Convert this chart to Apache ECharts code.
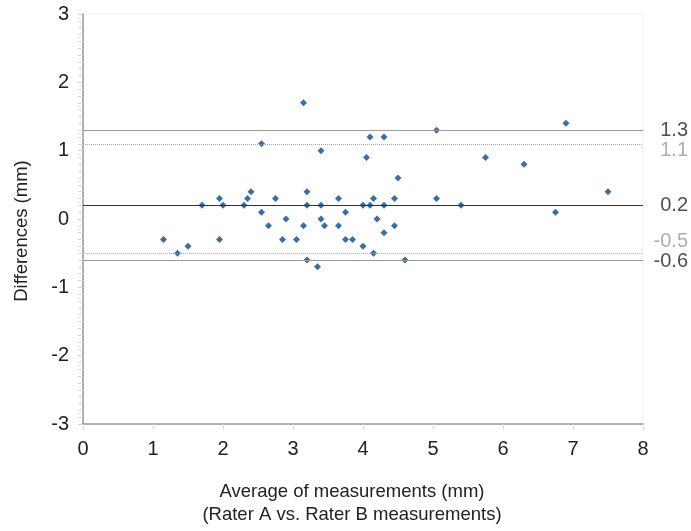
<!DOCTYPE html>
<html>
<head>
<meta charset="utf-8">
<script src="https://cdn.jsdelivr.net/npm/echarts@6/dist/echarts.min.js"></script>
<style>
  html, body { margin: 0; padding: 0; background: #fff; }
  #myChart { width: 691px; height: 531px; }
</style>
</head>
<body>
<div id="myChart"></div>
<script>
// average of the two raters (mm)
var avgValues = [2.55, 1.15, 1.35, 1.5, 1.7, 1.95, 1.95, 2.0, 2.3, 2.35, 2.4, 2.55, 2.65, 2.75,
  3.15, 4.1, 4.3, 5.05, 3.4, 4.05, 4.5, 3.2, 3.65, 4.15, 4.45, 5.05, 3.2, 3.4, 4.0, 4.1, 4.3, 5.4,
  2.9, 3.15, 3.4, 3.45, 3.65, 3.75, 4.2, 4.45, 4.3, 2.85, 3.05, 3.75, 3.85, 4.0, 4.15, 3.2, 3.35, 4.6,
  6.9, 5.75, 6.3, 7.5, 6.75];
// difference between raters (mm)
var diffValues = [1.1, -0.3, -0.5, -0.4, 0.2, 0.3, -0.3, 0.2, 0.2, 0.3, 0.4, 0.1, -0.1, 0.3,
  1.7, 1.2, 1.2, 1.3, 1.0, 0.9, 0.6, 0.4, 0.3, 0.3, 0.3, 0.3, 0.2, 0.2, 0.2, 0.2, 0.2, 0.2,
  0, -0.1, 0, -0.1, -0.1, 0.1, 0, -0.1, -0.2, -0.3, -0.3, -0.3, -0.3, -0.4, -0.5, -0.6, -0.7, -0.6,
  1.4, 0.9, 0.8, 0.4, 0.1];
// reference lines: upper limit, upper CI, mean, lower CI, lower limit
var limitValues = [1.3, 1.1, 0.2, -0.5, -0.6];
var limitLabels = ['1.3', '1.1', '0.2', '-0.5', '-0.6'];
var xTicks = [0, 1, 2, 3, 4, 5, 6, 7, 8];
var yTicks = [-3, -2, -1, 0, 1, 2, 3];

var points = avgValues.map(function (x, i) { return [x, diffValues[i]]; });

// line look per limit (solid = limits/mean, dotted = CI)
var lineStyles = [
  { color: '#9a9a9a', type: 'solid', width: 1 },
  { color: '#a8a8a8', type: 'dotted', width: 1 },
  { color: '#333333', type: 'solid', width: 1 },
  { color: '#a8a8a8', type: 'dotted', width: 1 },
  { color: '#9a9a9a', type: 'solid', width: 1 }
];
var labelColors = ['#222', '#9a9a9a', '#222', '#9a9a9a', '#222'];
var labelShift = [0, 7, 0, -12, 1];

var myChart = echarts.init(document.getElementById('myChart'));
var option = {
  animation: false,
  textStyle: { fontFamily: 'Liberation Sans, Arial, sans-serif' },
  grid: {
    left: 83, top: 14, right: 48, bottom: 104,
    show: true, borderColor: '#eeeeee', borderWidth: 1
  },
  xAxis: {
    type: 'value',
    min: xTicks[0], max: xTicks[xTicks.length - 1], interval: 1,
    name: 'Average of measurements (mm)\n(Rater A vs. Rater B measurements)',
    nameLocation: 'middle',
    nameGap: 56,
    nameTextStyle: { fontSize: 18.5, color: '#222', lineHeight: 23, padding: [0, 22, 0, 0] },
    axisLine: { onZero: false, lineStyle: { color: '#999', width: 1.5 } },
    axisTick: { show: true, length: 6, lineStyle: { color: '#ddd' } },
    axisLabel: { fontSize: 20, color: '#222', margin: 15 },
    splitLine: { show: false }
  },
  yAxis: {
    type: 'value',
    min: yTicks[0], max: yTicks[yTicks.length - 1], interval: 1,
    name: 'Differences (mm)',
    nameLocation: 'middle',
    nameGap: 52,
    nameTextStyle: { fontSize: 18.5, color: '#222', padding: [0, 24, 0, 0] },
    axisLine: { show: true, onZero: false, lineStyle: { color: '#999', width: 1.5 } },
    axisTick: { show: true, length: 5, lineStyle: { color: '#d0d0d0' } },
    minorTick: { show: true, splitNumber: 10, length: 5, lineStyle: { color: '#d8d8d8' } },
    axisLabel: { fontSize: 20, color: '#222', margin: 14 },
    splitLine: { show: false }
  },
  series: [
    {
      name: 'limits',
      type: 'scatter',
      symbolSize: 0,
      silent: true,
      data: limitValues.map(function (v, i) {
        return {
          value: [xTicks[xTicks.length - 1], v],
          label: {
            show: true,
            formatter: limitLabels[i],
            position: [45, labelShift[i]],
            align: 'right',
            verticalAlign: 'middle',
            fontSize: 20,
            color: labelColors[i]
          }
        };
      }),
      markLine: {
        silent: true,
        symbol: 'none',
        label: { show: false },
        data: limitValues.map(function (v, i) {
          return { yAxis: v, lineStyle: lineStyles[i] };
        })
      },
      z: 1
    },
    {
      name: 'differences',
      type: 'scatter',
      symbol: 'diamond',
      symbolSize: 7,
      itemStyle: { color: '#0c4a8a' },
      data: points,
      z: 3
    }
  ]
};
window.onresize = myChart.resize;
myChart.setOption(option);
</script>
</body>
</html>
